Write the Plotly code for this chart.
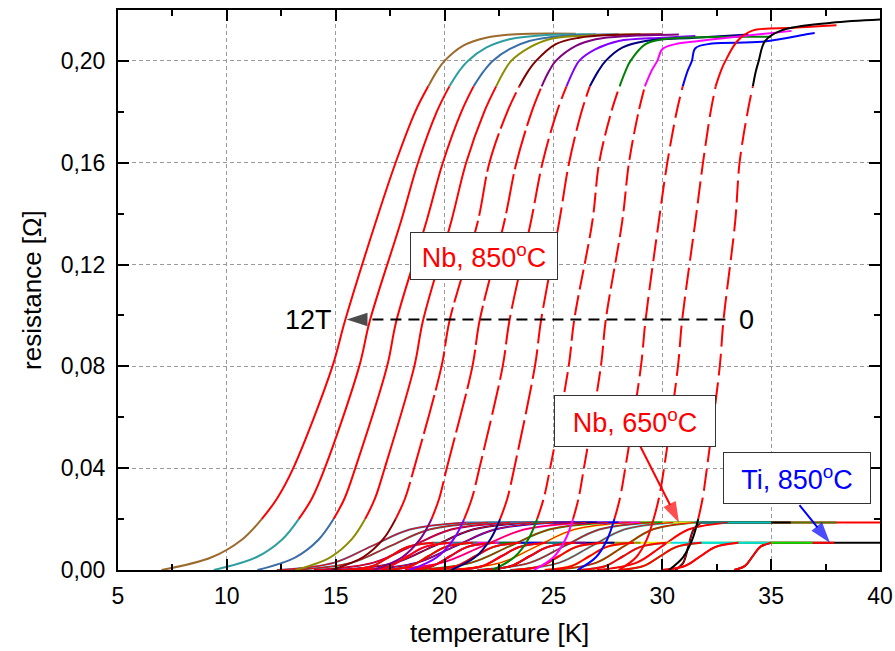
import plotly.graph_objects as go

# ---------------- main Nb (850 C) set: 12T ... 0T ----------------
FIELDS = ["12T", "11T", "10T", "9T", "8T", "7T", "6T", "5T", "4T", "3T", "2T", "1T", "0T"]
MAIN_COLORS = ["#9c6a2c", "#2f9e9e", "#3a6ea8", "#8c8c00", "#800000", "#800080",
               "#8000ff", "#000080", "#008000", "#ff00ff", "#0000ff", "#ff0000", "#000000"]
R_LEVELS = [0.0, 0.005, 0.012, 0.02, 0.028, 0.04, 0.08, 0.098, 0.137, 0.16, 0.18, 0.19,
            0.196, 0.20]
MAIN_T_AT_LEVELS = [
    [7.0, 9.3, 10.7, 11.6, 12.3, 13.05, 14.85, 15.43, 16.85, 17.75, 18.65, 19.25, 19.65, 20.0],
    [9.4, 11.35, 12.54, 13.3, 13.9, 14.5, 16.08, 16.57, 18.0, 18.78, 19.64, 20.22, 20.67, 21.07],
    [11.4, 13.15, 14.22, 14.9, 15.4, 15.9, 17.36, 17.79, 19.17, 19.92, 20.77, 21.33, 21.8, 22.21],
    [13.15, 14.75, 15.73, 16.35, 16.8, 17.25, 18.61, 19.01, 20.31, 20.99, 21.82, 22.37, 22.74, 23.06],
    [14.8, 16.25, 17.17, 17.75, 18.18, 18.6, 19.86, 20.23, 21.53, 22.06, 22.88, 23.43, 23.84, 24.2],
    [16.75, 18.05, 18.87, 19.4, 19.75, 20.1, 21.28, 21.61, 22.75, 23.3, 24.0, 24.46, 24.8, 25.11],
    [18.4, 19.65, 20.41, 20.9, 21.25, 21.6, 22.67, 22.98, 23.97, 24.5, 25.16, 25.6, 25.91, 26.18],
    [20.3, 21.4, 22.1, 22.55, 22.88, 23.2, 24.15, 24.43, 25.27, 25.72, 26.29, 26.67, 27.06, 27.4],
    [22.2, 23.2, 23.84, 24.25, 24.55, 24.85, 25.7, 25.95, 26.79, 27.1, 27.66, 28.04, 28.31, 28.54],
    [24.1, 25.0, 25.55, 25.9, 26.15, 26.4, 27.18, 27.4, 28.16, 28.47, 28.91, 29.2, 29.5, 29.77],
    [26.1, 26.95, 27.47, 27.8, 28.05, 28.3, 29.02, 29.23, 29.84, 30.23, 30.66, 30.94, 31.16, 31.36],
    [28.0, 28.8, 29.29, 29.6, 29.84, 30.08, 30.72, 30.91, 31.52, 31.87, 32.22, 32.45, 32.69, 32.9],
    [30.3, 30.95, 31.38, 31.65, 31.85, 32.05, 32.64, 32.81, 33.35, 33.55, 33.92, 34.16, 34.3, 34.43],
]
PLATEAU_T = [
    [20.84, 21.91, 23.28, 26.03],
    [21.91, 22.98, 24.66, 26.95],
    [22.98, 23.89, 25.42, 28.0],
    [23.89, 24.81, 26.18, 29.0],
    [25.11, 26.18, 27.7, 30.0],
    [26.03, 26.94, 28.47, 30.76],
    [26.94, 28.0, 29.99, 31.52],
    [28.16, 29.23, 31.5, 33.96],
    [29.23, 29.99, 35.02],
    [30.0, 30.6, 31.67, 35.94],
    [31.52, 32.28, 34.57, 36.7, 37.0],
    [33.45, 34.11, 36.0, 38.0],
    [34.72, 35.48, 37.77, 40.0],
]
PLATEAU_R = [
    [0.2059, 0.2091, 0.2105, 0.2107],
    [0.2052, 0.2085, 0.2102, 0.2105],
    [0.2046, 0.2078, 0.2098, 0.2105],
    [0.2052, 0.2085, 0.2098, 0.2105],
    [0.2066, 0.2091, 0.2102, 0.2105],
    [0.2059, 0.2085, 0.2098, 0.2104],
    [0.2046, 0.2078, 0.2091, 0.2098],
    [0.2052, 0.2078, 0.2091, 0.2104],
    [0.2066, 0.2085, 0.2095],
    [0.2046, 0.2066, 0.2078, 0.2118],
    [0.2050, 0.2068, 0.2075, 0.2106, 0.2110],
    [0.2078, 0.2118, 0.2130, 0.2140],
    [0.2078, 0.2120, 0.2150, 0.2163],
]
MAIN_FIT_DASH = ["solid", "solid", "solid", "solid", "40px,5px", "40px,5px", "30px,6px",
                 "30px,6px", "20px,6px", "20px,6px", "22px,7px", "22px,7px", "22px,7px"]

# ---------------- Nb (650 C) set: small transitions, upper band ----------------
NB650_RN = [0.0, 0.0028, 0.0094, 0.0159, 0.0187]
NB650_COLORS = ["#ff0000", "#4d7a00", "#000000", "#00c0c0", "#1f7a7a", "#e0e000", "#00a000",
                "#ff00ff", "#0000ff", "#000080", "#800080", "#2f6f6f", "#3a6ea8"]
NB650_T0 = [27.0, 25.0, 30.6, 23.0, 21.5, 20.0, 18.5, 17.0, 16.0, 15.0, 14.0, 13.0, 12.3]
NB650_T15 = [28.8, 26.95, 30.96, 25.25, 23.9, 22.55, 21.2, 19.85, 18.7, 17.7, 16.7, 15.7, 14.9]
NB650_T50 = [30.0, 28.25, 31.2, 26.75, 25.5, 24.25, 23.0, 21.75, 20.5, 19.5, 18.5, 17.5, 16.65]
NB650_T85 = [31.2, 29.55, 31.44, 28.25, 27.1, 25.95, 24.8, 23.65, 22.3, 21.3, 20.3, 19.3, 18.4]
NB650_T100 = [33.0, 31.5, 31.8, 30.5, 29.5, 28.5, 27.5, 26.5, 25.0, 24.0, 23.0, 22.0, 21.0]
NB650_END = [40.0, 38.0, 35.9, 35.0, 33.0, 31.5, 30.0, 29.0, 28.0, 27.0, 26.0, 25.0, 24.0]

# ---------------- Ti (850 C) set: small transitions, lower band ----------------
TI_RN = [0.0, 0.0016, 0.0054, 0.0091, 0.0107]
TI_COLORS = ["#000000", "#ff0000", "#00e000", "#00e0e0", "#e8e800", "#909000", "#000080",
             "#800080", "#008080", "#0000ff", "#008000", "#ff00ff", "#2f7f7f"]
TI_T0 = [33.3, 30.0, 28.0, 26.2, 24.6, 23.2, 21.8, 20.5, 19.3, 18.2, 17.2, 16.3, 15.5]
TI_T15 = [33.8, 31.05, 29.15, 27.4, 25.85, 24.45, 23.05, 21.75, 20.55, 19.45, 18.45, 17.5, 16.7]
TI_T50 = [34.15, 31.75, 29.9, 28.2, 26.65, 25.25, 23.9, 22.6, 21.4, 20.25, 19.25, 18.3, 17.5]
TI_T85 = [34.5, 32.45, 30.65, 29.0, 27.45, 26.05, 24.75, 23.45, 22.25, 21.05, 20.05, 19.1, 18.3]
TI_T100 = [35.0, 33.5, 31.8, 30.2, 28.7, 27.3, 26.0, 24.7, 23.5, 22.3, 21.3, 20.3, 19.5]
TI_END = [40.0, 37.9, 36.9, 35.0, 30.4, 29.0, 27.8, 26.5, 25.5, 24.5, 23.5, 22.5, 21.5]

# ---------------- annotation arrows (tail -> head) ----------------
FIELD_ARROW_T = [32.9, 15.5]
FIELD_ARROW_R = [0.0984, 0.0984]
NB650_ARROW_T = [29.0, 30.77]
NB650_ARROW_R = [0.0484, 0.0186]
TI_ARROW_T = [36.3, 37.7]
TI_ARROW_R = [0.0255, 0.0107]

fig = go.Figure()


def small_family(t0, t15, t50, t85, t100, end, rn, colors, fit_width):
    colored, fits = [], []
    for i in range(len(t0)):
        xs = [t0[i], t15[i], t50[i], t85[i], t100[i]]
        colored.append(go.Scatter(
            x=xs + [None, t100[i], end[i]], y=rn + [None, rn[-1], rn[-1]],
            mode="lines", line=dict(color=colors[i], width=2, shape="spline"),
            hoverinfo="skip", showlegend=False))
        fits.append(go.Scatter(
            x=xs, y=rn, mode="lines",
            line=dict(color="#ff0000", width=fit_width, shape="spline"),
            hoverinfo="skip", showlegend=False))
    return colored, fits


c1, f1 = small_family(NB650_T0, NB650_T15, NB650_T50, NB650_T85, NB650_T100,
                      NB650_END, NB650_RN, NB650_COLORS, 1)
c2, f2 = small_family(TI_T0, TI_T15, TI_T50, TI_T85, TI_T100, TI_END, TI_RN, TI_COLORS, 2)
for tr in c1 + c2 + f1 + f2:
    fig.add_trace(tr)

# main colored data: visible below ~0.02 and above ~0.19 (the red fit covers the middle)
for i, f in enumerate(FIELDS):
    tt = MAIN_T_AT_LEVELS[i]
    xs = tt[0:4] + [None] + tt[11:] + PLATEAU_T[i]
    ys = R_LEVELS[0:4] + [None] + R_LEVELS[11:] + PLATEAU_R[i]
    fig.add_trace(go.Scatter(x=xs, y=ys, mode="lines", name=f,
                             line=dict(color=MAIN_COLORS[i], width=2, shape="spline"),
                             hoverinfo="skip", showlegend=False))
# red fits over the transitions
for i, f in enumerate(FIELDS):
    xs = MAIN_T_AT_LEVELS[i][3:12]
    ys = R_LEVELS[3:12]
    fig.add_trace(go.Scatter(x=xs, y=ys, mode="lines",
                             line=dict(color="#ff0000", width=2, shape="spline",
                                       dash=MAIN_FIT_DASH[i]),
                             hoverinfo="skip", showlegend=False))


def arrow(xs, ys, color, dash, size):
    return go.Scatter(x=xs, y=ys, mode="lines+markers",
                      line=dict(color=color, width=2, dash=dash),
                      marker=dict(symbol="arrow", size=[0, size], color=color,
                                  angleref="previous", line=dict(width=0)),
                      hoverinfo="skip", showlegend=False)


fig.add_trace(arrow(FIELD_ARROW_T, FIELD_ARROW_R, "black", "11px,7px", 22))
fig.add_trace(arrow(NB650_ARROW_T, NB650_ARROW_R, "#ff0000", "solid", 22))
fig.add_trace(arrow(TI_ARROW_T, TI_ARROW_R, "#0000ff", "solid", 22))

TXT = dict(family="Liberation Sans, Arial, sans-serif", size=27)
ann = [
    dict(x=13.74, y=0.0984, text="12T", showarrow=False, font=dict(TXT, color="black")),
    dict(x=33.88, y=0.0984, text="0", showarrow=False, font=dict(TXT, color="black")),
    dict(x=21.8, y=0.1235, text="Nb, 850<sup>o</sup>C", showarrow=False,
         font=dict(TXT, color="#ff0000"), bgcolor="white", bordercolor="#333333",
         borderwidth=1, borderpad=2, width=142, height=42),
    dict(x=28.74, y=0.0585, text="Nb, 650<sup>o</sup>C", showarrow=False,
         font=dict(TXT, color="#ff0000"), bgcolor="white", bordercolor="#333333",
         borderwidth=1, borderpad=2, width=156, height=46),
    dict(x=36.2, y=0.036, text="Ti, 850<sup>o</sup>C", showarrow=False,
         font=dict(TXT, color="#0000ff"), bgcolor="white", bordercolor="#333333",
         borderwidth=1, borderpad=2, width=142, height=46),
    dict(x=0.5, y=-0.112, xref="paper", yref="paper", text="temperature [K]",
         showarrow=False, font=dict(TXT, size=26, color="black"), yanchor="middle"),
    dict(x=-0.113, y=0.5, xref="paper", yref="paper", text="resistance [Ω]",
         showarrow=False, font=dict(TXT, size=26, color="black"), textangle=-90,
         xanchor="center"),
]

AX = dict(showline=True, linecolor="black", linewidth=2, mirror="allticks",
          ticks="inside", ticklen=11, tickwidth=2, tickcolor="black",
          showgrid=True, gridcolor="#9a9a9a", gridwidth=1, griddash="4px,3px",
          zeroline=False, automargin=False,
          tickfont=dict(family="Liberation Sans, Arial, sans-serif", size=23, color="black"))

fig.update_layout(
    width=895, height=651,
    margin=dict(l=118, r=15, t=10, b=81, autoexpand=False),
    paper_bgcolor="white", plot_bgcolor="white",
    separators=",.",
    showlegend=False,
    annotations=ann,
    xaxis=dict(AX, range=[5, 40], dtick=5, tick0=5, ticklabelstandoff=4,
               minor=dict(dtick=2.5, ticks="inside", ticklen=6, tickwidth=2,
                          tickcolor="black", showgrid=False)),
    yaxis=dict(AX, range=[0, 0.22], dtick=0.04, tick0=0, tickformat=".2f",
               ticklabelstandoff=6,
               minor=dict(dtick=0.02, ticks="inside", ticklen=6, tickwidth=2,
                          tickcolor="black", showgrid=False)),
)
fig.write_html("out.html")
